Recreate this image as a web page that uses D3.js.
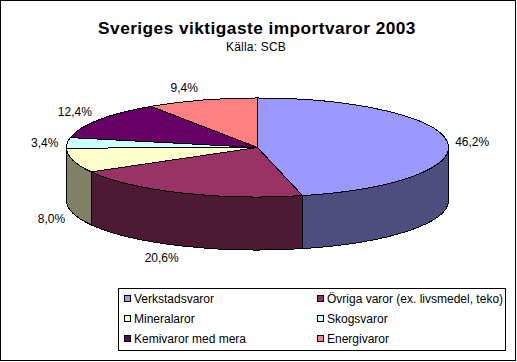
<!DOCTYPE html>
<html>
<head>
<meta charset="utf-8">
<script src="https://cdn.jsdelivr.net/npm/d3@7"></script>
<style>
html, body { margin: 0; padding: 0; background: #fff; }
svg { display: block; }
text { font-family: "Liberation Sans", Arial, sans-serif; fill: #000; }
</style>
</head>
<body>
<div id="chart"></div>
<script>
var categories = ["Verkstadsvaror", "Övriga varor (ex. livsmedel, teko)", "Mineralaror", "Skogsvaror", "Kemivaror med mera", "Energivaror"];
var values = [46.2, 20.6, 8.0, 3.4, 12.4, 9.4];
var valueLabels = ["46,2%", "20,6%", "8,0%", "3,4%", "12,4%", "9,4%"];
var topColors = ["#9999FF", "#993366", "#FFFFCC", "#CCFFFF", "#660066", "#FF8080"];
var sideColors = ["#4D4D80", "#4D1A33", "#808066", "#668080", "#330033", "#804040"];

var width = 517, height = 362;
var cx = 257.5, cy = 147.5, rx = 191, ry = 49.5, depth = 53;

var svg = d3.select("#chart").append("svg")
	.attr("width", width)
	.attr("height", height);

//Outer frame
svg.append("rect")
	.attr("x", 0.5).attr("y", 0.5)
	.attr("width", 515).attr("height", 360)
	.attr("fill", "#fff")
	.attr("stroke", "#000")
	.attr("stroke-width", 1);

svg.append("text")
	.text("Sveriges viktigaste importvaror 2003")
	.attr("x", 257).attr("y", 34)
	.attr("text-anchor", "middle")
	.attr("font-weight", "bold")
	.attr("font-size", 17.3)
	.style("letter-spacing", "0.45px");

svg.append("text")
	.text("Källa: SCB")
	.attr("x", 256).attr("y", 51)
	.attr("text-anchor", "middle")
	.attr("font-size", 12)
	.style("letter-spacing", "0.2px");

var slices = d3.pie().sort(null)(values);

function px(t) { return cx + rx * Math.sin(t); }
function py(t) { return cy - ry * Math.cos(t); }

//Side wall, only the part of the rim that faces front
function sidePath(d) {
	var a = Math.max(d.startAngle, Math.PI / 2);
	var b = Math.min(d.endAngle, Math.PI * 1.5);
	if (b <= a) return null;
	return "M" + px(a) + "," + py(a)
		+ "A" + rx + "," + ry + " 0 0 1 " + px(b) + "," + py(b)
		+ "L" + px(b) + "," + (py(b) + depth)
		+ "A" + rx + "," + ry + " 0 0 0 " + px(a) + "," + (py(a) + depth)
		+ "Z";
}

var pieG = svg.append("g").attr("shape-rendering", "crispEdges");

pieG.selectAll("path.side")
	.data(slices.filter(function(d) { return sidePath(d) !== null; }))
	.enter().append("path")
	.attr("class", "side")
	.attr("d", sidePath)
	.attr("fill", function(d) { return sideColors[d.index]; })
	.attr("stroke", "#000")
	.attr("stroke-linejoin", "round");

var arc = d3.arc().innerRadius(0).outerRadius(1);

pieG.append("g")
	.attr("transform", "translate(" + cx + "," + cy + ")scale(" + rx + "," + ry + ")")
	.selectAll("path.top")
	.data(slices)
	.enter().append("path")
	.attr("class", "top")
	.attr("d", arc)
	.attr("fill", function(d) { return topColors[d.index]; })
	.attr("stroke", "#000")
	.attr("stroke-width", 1)
	.attr("vector-effect", "non-scaling-stroke");

//Labels hang off the rim at the middle of each slice
var nudgeX = [8, -20, -8, -9, -7, -4];
var nudgeY = [3, 15, 9, 3, -5, -9];

svg.selectAll("text.val")
	.data(slices)
	.enter().append("text")
	.attr("class", "val")
	.text(function(d) { return valueLabels[d.index]; })
	.attr("font-size", 12)
	.attr("text-anchor", function(d) {
		var mid = (d.startAngle + d.endAngle) / 2;
		return Math.sin(mid) > 0 ? "start" : (d.index == 1 ? "middle" : "end");
	})
	.attr("x", function(d) {
		return px((d.startAngle + d.endAngle) / 2) + nudgeX[d.index];
	})
	.attr("y", function(d) {
		var mid = (d.startAngle + d.endAngle) / 2;
		return py(mid) + (Math.cos(mid) < -0.2 ? depth : 0) + nudgeY[d.index] + 1;
	});

//Legend
var legend = svg.append("g").attr("transform", "translate(118,288)");

legend.append("rect")
	.attr("x", 0.5).attr("y", 0.5)
	.attr("width", 387).attr("height", 62)
	.attr("fill", "#fff")
	.attr("stroke", "#000");

var item = legend.selectAll("g.item")
	.data(categories)
	.enter().append("g")
	.attr("class", "item")
	.attr("transform", function(d, i) {
		return "translate(" + (i % 2 ? 199 : 6) + "," + (11 + Math.floor(i / 2) * 20) + ")";
	});

item.append("rect")
	.attr("x", 0.5).attr("y", -3.5)
	.attr("width", 6).attr("height", 6)
	.attr("fill", function(d, i) { return topColors[i]; })
	.attr("stroke", "#000");

item.append("text")
	.text(function(d) { return d; })
	.attr("x", 10).attr("y", 4)
	.attr("font-size", 12);
</script>
</body>
</html>
